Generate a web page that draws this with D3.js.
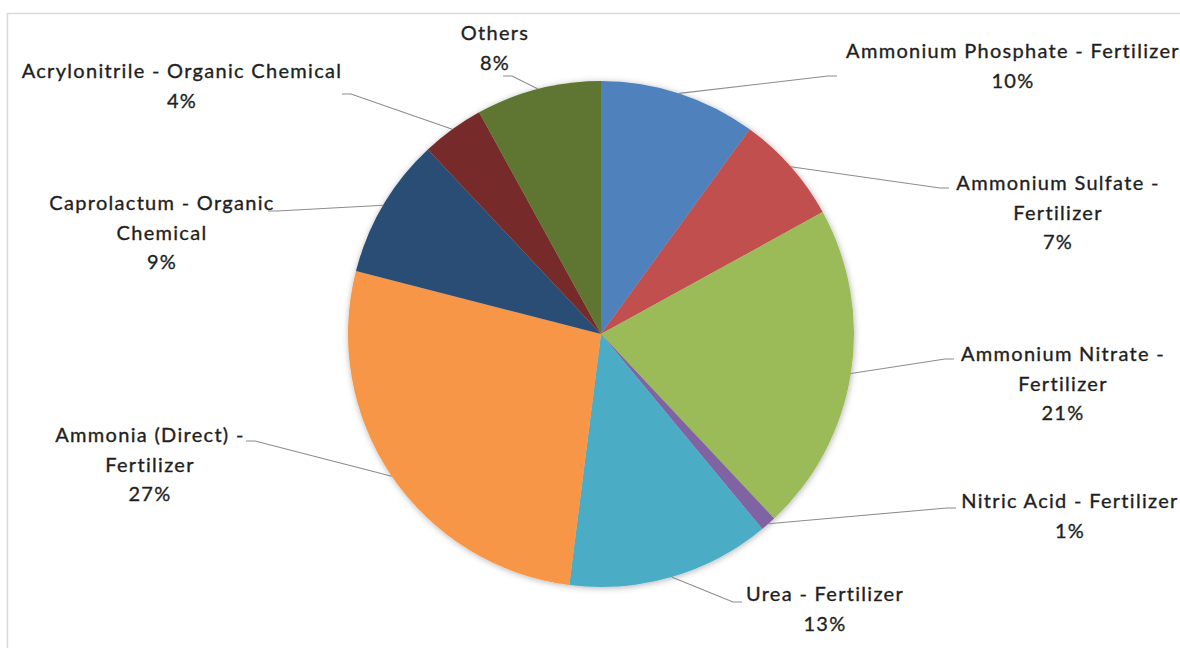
<!DOCTYPE html>
<html>
<head>
<meta charset="utf-8">
<script src="https://cdn.jsdelivr.net/npm/d3@7"></script>
<style>
  html, body { margin: 0; padding: 0; background: #fff; }
  svg { display: block; }
  .lbl { font-family: Lato, "Open Sans", sans-serif; font-size: 20px; fill: #1f1f1f;
         stroke: #1f1f1f; stroke-width: 0.35px; letter-spacing: 1.3px; }
</style>
</head>
<body>
<svg id="chart" width="1180" height="648"></svg>
<script>
// Share of end uses, clockwise from 12 o'clock
const categories = [
  "Ammonium Phosphate - Fertilizer",
  "Ammonium Sulfate - Fertilizer",
  "Ammonium Nitrate - Fertilizer",
  "Nitric Acid - Fertilizer",
  "Urea - Fertilizer",
  "Ammonia (Direct) - Fertilizer",
  "Caprolactum - Organic Chemical",
  "Acrylonitrile - Organic Chemical",
  "Others"
];
const values = [10, 7, 21, 1, 13, 27, 9, 4, 8];
const colors = ["#4f81bd", "#c0504d", "#9bbb59", "#8064a2", "#4bacc6",
                "#f79646", "#2c4d75", "#772c2a", "#5f7530"];

// Label placement: text centre x, first line centre y, how the name wraps,
// and where the leader line meets the label.
const labelLayout = [
  { x: 1013, y: 51,  lines: ["Ammonium Phosphate - Fertilizer"],     lx: 837, ly: 76,  side: 1 },
  { x: 1058, y: 183, lines: ["Ammonium Sulfate -", "Fertilizer"],    lx: 949, ly: 188, side: 1 },
  { x: 1063, y: 354, lines: ["Ammonium Nitrate -", "Fertilizer"],    lx: 954, ly: 359, side: 1 },
  { x: 1070, y: 501, lines: ["Nitric Acid - Fertilizer"],            lx: 956, ly: 508, side: 1 },
  { x: 825,  y: 594, lines: ["Urea - Fertilizer"],                   lx: 742, ly: 602, side: 1 },
  { x: 150,  y: 435, lines: ["Ammonia (Direct) -", "Fertilizer"],    lx: 246, ly: 441, side: -1 },
  { x: 162,  y: 203, lines: ["Caprolactum - Organic", "Chemical"],   lx: 268, ly: 211, side: -1 },
  { x: 182,  y: 71,  lines: ["Acrylonitrile - Organic Chemical"],   lx: 342, ly: 94,  side: -1 },
  { x: 495,  y: 33,  lines: ["Others"],                              lx: 503, ly: 76,  side: -1 }
];

const W = 1180, H = 648;
const cx = 601, cy = 334, R = 253;
const lineGap = 29.5;

const svg = d3.select("#chart");

// soft shadow under the pie
const defs = svg.append("defs");
const f = defs.append("filter").attr("id", "pieShadow")
  .attr("x", "-10%").attr("y", "-10%").attr("width", "120%").attr("height", "120%");
f.append("feDropShadow").attr("dx", 0.5).attr("dy", 1).attr("stdDeviation", 3)
  .attr("flood-color", "#000").attr("flood-opacity", 0.3);

// chart area frame
svg.append("rect")
  .attr("x", 7.5).attr("y", 13.5).attr("width", W).attr("height", H)
  .attr("fill", "none").attr("stroke", "#d9d9d9").attr("stroke-width", 1.5);

const data = categories.map((c, i) => ({ name: c, value: values[i], color: colors[i], layout: labelLayout[i] }));
const total = d3.sum(values);
const pct = d3.format(".0%");

const pie = d3.pie().value(d => d.value).sort(null);
const arcs = pie(data);
const arc = d3.arc().innerRadius(0).outerRadius(R);

const g = svg.append("g").attr("transform", `translate(${cx},${cy})`);
g.append("g").attr("filter", "url(#pieShadow)")
  .selectAll("path").data(arcs).join("path")
  .attr("d", arc)
  .attr("fill", d => d.data.color);

// leader lines: from slice mid-angle on the rim to the label
const leaders = svg.append("g").attr("fill", "none").attr("stroke", "#8c8c8c").attr("stroke-width", 1.1);
arcs.forEach(a => {
  const mid = (a.startAngle + a.endAngle) / 2;
  const px = cx + R * Math.sin(mid);
  const py = cy - R * Math.cos(mid);
  const L = a.data.layout;
  const ex = L.lx - L.side * 9;
  leaders.append("path").attr("d", d3.line()([[px, py], [ex, L.ly], [L.lx, L.ly]]));
});

// labels: name lines then percentage
const labels = svg.append("g");
arcs.forEach(a => {
  const L = a.data.layout;
  const lines = L.lines.concat([pct(a.data.value / total)]);
  const t = labels.append("text").attr("class", "lbl").attr("text-anchor", "middle");
  lines.forEach((s, k) => {
    t.append("tspan").attr("x", L.x).attr("y", L.y + k * lineGap + 7).text(s);
  });
});
</script>
</body>
</html>
